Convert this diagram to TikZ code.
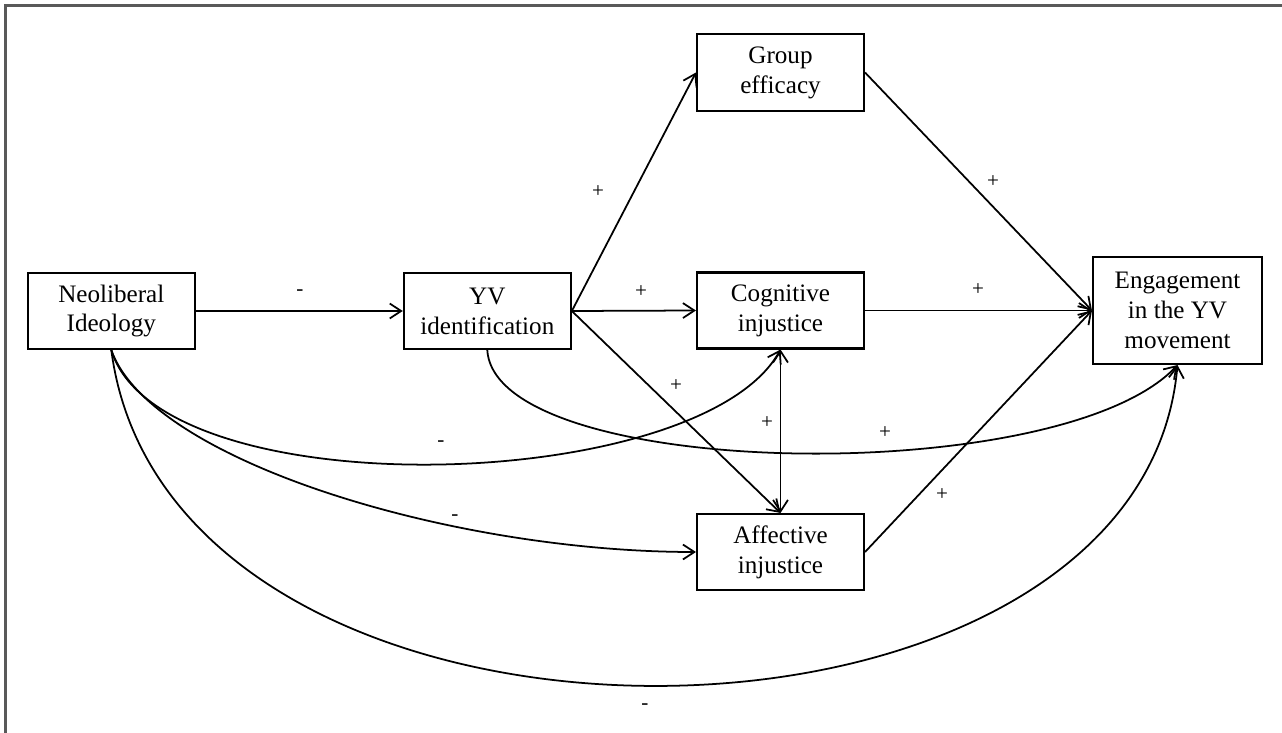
\documentclass[tikz,border=0pt]{standalone}
\usepackage{fontspec}
\setmainfont{Liberation Serif}
\usetikzlibrary{arrows.meta}
\tikzset{
  var/.style={draw, line width=1.2pt, align=center, inner sep=0pt,
    minimum width=3.34cm, minimum height=1.52cm,
    font=\fontsize{14.3}{17}\selectfont},
  link/.style={->, line width=1pt},
  sign/.style={inner sep=0pt, font=\fontsize{12}{14}\selectfont}
}
\begin{document}
\begin{tikzpicture}[x=0.02cm, y=-0.02cm, >={Straight Barb[length=6.5pt,width=8.5pt]}]
  \useasboundingbox (0,0) rectangle (1282,733);
  % frame
  \draw[line width=1.2pt, black!65] (1282,5.5) -- (5.5,5.5) -- (5.5,733);

  % variables
  \node[var] (neo) at (111.3,311) {Neoliberal\\Ideology};
  \node[var] (yv) at (487.3,311) {YV\\identification};
  \node[var, minimum height=1.54cm] (eff) at (780.5,72.5) {Group\\efficacy};
  \node[var] (cog) at (780.5,310.5) {Cognitive\\injustice};
  \node[var] (aff) at (780.5,552) {Affective\\injustice};
  \node[var, minimum width=3.38cm, minimum height=2.14cm] (eng) at (1177.5,310.5) {Engagement\\in the YV\\movement};

  % straight paths
  \draw[link] (neo.east) -- (yv.west);
  \draw[link] (yv.east) -- (eff.west);
  \draw[link] (yv.east) -- (cog.west);
  \draw[link] (yv.east) -- (aff.north);
  \draw[link] (eff.east) -- (eng.west);
  \draw[link] (cog.east) -- (eng.west);
  \draw[link] (aff.east) -- (eng.west);
  \draw[link, <->] (cog.south) -- (aff.north);

  % curved paths
  \draw[link] (yv.south) .. controls (495,480) and (1060,490) .. (eng.south);
  \draw[link] (neo.south) .. controls (160,510) and (700,495) .. (cog.south);
  \draw[link] (neo.south) .. controls (150,460) and (450,552) .. (aff.west);
  \draw[link] (neo.south) .. controls (170,800) and (1140,790) .. (eng.south);

  % signs
  \node[sign] (s1) at (300,293) {-};
  \node[sign] (s2) at (598,192) {+};
  \node[sign] (s3) at (641,292) {+};
  \node[sign] (s4) at (676,386) {+};
  \node[sign] (s5) at (767,423) {+};
  \node[sign] (s6) at (885,433) {+};
  \node[sign] (s7) at (441,444) {-};
  \node[sign] (s8) at (455,518) {-};
  \node[sign] (s9) at (645,707) {-};
  \node[sign] (s10) at (993,182) {+};
  \node[sign] (s11) at (978,290) {+};
  \node[sign] (s12) at (942,495) {+};
\end{tikzpicture}
\end{document}
